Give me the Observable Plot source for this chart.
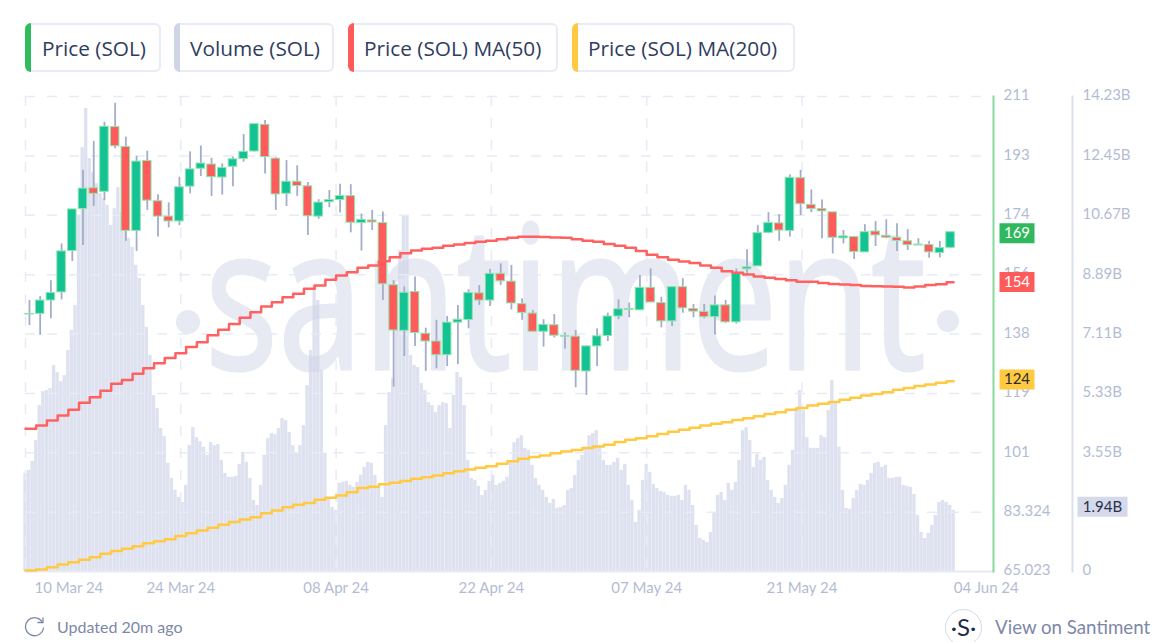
<!DOCTYPE html>
<html><head><meta charset="utf-8">
<script src="https://cdn.jsdelivr.net/npm/d3@7"></script>
<script src="https://cdn.jsdelivr.net/npm/@observablehq/plot@0.6"></script>
<style>
html,body{margin:0;padding:0;background:#fff}
#page{position:relative;width:1157px;height:642px;overflow:hidden;font-family:Lato,"Open Sans",sans-serif}
.pill{position:absolute;top:23px;height:45px;border:2px solid #e9ebf5;border-left:none;border-radius:6px;box-sizing:content-box;color:#2f3d5e;font:20.8px/46px "Open Sans",sans-serif;background:#fff;white-space:nowrap}
.pill i{position:absolute;left:0;top:-2px;bottom:-2px;width:6px;border-radius:6px 0 0 6px}
#mark{position:absolute;left:205px;top:192px;font:200px/200px "Open Sans",sans-serif;color:#e7e9f3;-webkit-text-stroke:3px #e7e9f3;white-space:nowrap;transform:scaleX(.765);transform-origin:0 0}
.wd{position:absolute;border-radius:50%;background:#e7e9f3}
.chart{position:absolute;left:0;top:80px}
#upd{position:absolute;left:57px;top:618px;font-size:16px;line-height:18px;color:#7d88a8}
#view{position:absolute;left:995px;top:616px;font-size:18.7px;line-height:22px;color:#7d88a8;white-space:nowrap}
#logo{position:absolute;left:945px;top:609px;width:35px;height:35px;border:1.5px solid #d5d9e9;border-radius:50%;text-align:center;line-height:34px;font-size:24px;color:#1d2a4a;background:#fff}
</style></head>
<body><div id="page">
<div id="mark">santiment</div>
<div class="wd" style="left:176px;top:310px;width:24px;height:24px"></div>
<div class="wd" style="left:937px;top:310px;width:22px;height:22px"></div>
<div id="volLayer" class="chart"></div>
<div id="priceLayer" class="chart"></div>
<div class="pill" style="left:25px;width:117px;padding-left:17px"><i style="background:#2fbc5f"></i>Price (SOL)</div>
<div class="pill" style="left:174px;width:142px;padding-left:16px"><i style="background:#d0d4e7"></i>Volume (SOL)</div>
<div class="pill" style="left:348px;width:192px;padding-left:16px"><i style="background:#ff5b5b"></i>Price (SOL) MA(50)</div>
<div class="pill" style="left:572px;width:205px;padding-left:16px"><i style="background:#ffc942"></i>Price (SOL) MA(200)</div>
<svg style="position:absolute;left:24px;top:617px" width="21" height="21" viewBox="0 0 21 21" fill="none" stroke="#7d88a8" stroke-width="1.3"><path d="M18.5 5.5A9 9 0 1 0 19.5 10.5"/><path d="M13.5 5.5h5.5V0.5"/></svg>
<div id="upd">Updated 20m ago</div>
<div id="logo">·S·</div>
<div id="view">View on Santiment</div>
</div>
<script>
const startDate = "2024-03-10T00:00:00Z";
const tickDates = ["2024-03-10T00:00:00Z","2024-03-24T12:00:00Z","2024-04-08T00:00:00Z","2024-04-22T12:00:00Z","2024-05-07T00:00:00Z","2024-05-21T12:00:00Z","2024-06-05T00:00:00Z"];
const tickLabels = ["10 Mar 24","24 Mar 24","08 Apr 24","22 Apr 24","07 May 24","21 May 24","04 Jun 24"];
const priceTicks = [211,192.75,174.5,156.25,138,119.76,101.5,83.27,65.023];
const priceTickLabels = ["211","193","174","156","138","119","101","83.324","65.023"];
const volumeTicks = [14.23,12.45,10.67,8.89,7.11,5.33,3.55,1.78,0];
const volumeTickLabels = ["14.23B","12.45B","10.67B","8.89B","7.11B","5.33B","3.55B","1.78B","0"];

const open = [144.0,144.2,148.3,150.8,163.5,176.4,182.8,181.7,201.6,195.5,169.7,191.2,178.8,174.1,172.6,183.3,188.8,190.1,186.1,189.4,191.8,194.1,202.3,191.9,181.1,184.8,183.4,174.1,178.5,179.2,180.4,172.1,172.9,172.1,153.0,139.0,150.9,138.1,135.7,131.5,141.5,142.3,150.5,148.3,156.5,154.1,147.2,144.3,138.7,140.7,137.4,137.2,126.5,134.2,137.4,143.4,145.7,145.3,152.2,147.5,141.9,152.4,145.7,144.8,143.2,146.8,141.6,157.9,158.8,169.1,172.0,169.7,185.9,177.7,176.4,175.4,167.4,167.8,163.1,169.5,168.2,167.6,166.5,165.2,165.4,162.9,164.5];
const close = [144.2,148.3,150.6,163.4,176.3,182.7,181.1,201.7,195.7,169.7,191.0,179.0,174.1,172.6,183.1,188.6,190.4,186.2,189.0,191.7,194.0,202.5,192.4,180.9,184.8,183.5,174.2,178.4,179.2,180.4,172.2,173.1,172.3,153.3,139.1,150.7,138.3,135.7,131.5,141.5,142.4,150.6,148.3,156.5,154.2,147.4,144.5,138.7,140.8,137.5,137.2,126.7,134.2,137.3,143.4,145.6,145.4,152.2,147.7,141.9,152.4,145.9,144.9,143.2,146.8,141.6,156.8,158.5,169.0,172.1,169.8,186.0,177.9,176.4,175.7,167.6,168.0,163.2,169.3,168.3,167.6,166.6,165.3,165.5,163.1,164.4,169.3];
const high = [148.3,149.5,154.4,165.7,176.3,188.3,197.2,203.1,208.9,198.5,192.6,194.2,180.8,178.3,186.2,194.0,195.8,192.0,190.3,192.4,199.3,202.5,203.6,192.2,191.3,189.7,184.6,179.3,182.1,184.0,183.9,174.9,176.0,175.5,154.4,152.5,155.5,139.8,142.2,143.4,146.8,151.6,152.9,157.8,159.6,159.1,148.8,145.2,142.4,144.0,138.3,139.1,134.5,139.6,144.4,148.5,147.5,156.0,158.0,149.3,152.4,155.0,147.1,147.1,149.7,148.3,158.0,163.9,171.3,175.3,174.7,186.9,188.3,182.3,179.2,175.4,169.8,168.0,171.6,172.6,173.1,171.9,170.1,167.3,166.5,166.5,169.3];
const low = [140.6,137.6,142.7,148.5,160.3,165.2,177.2,179.0,194.9,166.5,163.4,176.0,167.8,170.6,171.3,181.1,186.4,180.3,180.7,183.3,190.8,193.9,187.2,176.0,177.2,180.3,168.3,173.3,176.8,175.2,169.1,163.5,169.8,148.3,121.7,131.1,134.2,126.5,127.3,128.0,128.6,139.6,146.8,146.5,152.9,145.4,142.2,138.6,134.0,136.8,133.4,121.5,119.1,128.0,135.7,142.4,143.0,145.2,147.7,139.9,140.3,144.4,143.0,142.7,137.7,141.3,141.1,156.3,158.8,168.8,166.5,167.8,174.4,175.3,167.3,162.6,165.7,160.9,163.1,164.9,167.3,163.4,163.7,165.2,161.3,161.4,164.2];

const ma50 = [108.9,109.9,111.4,113.0,114.7,116.9,118.6,120.6,122.7,123.9,125.8,127.5,129.0,130.6,132.1,134.0,135.5,137.6,139.3,141.1,143.0,144.7,146.5,147.8,149.3,150.4,151.9,152.9,154.7,156.0,157.0,158.4,159.1,160.4,161.6,162.8,163.7,164.2,164.5,165.1,165.5,166.0,166.4,166.7,167.1,167.6,167.9,167.9,167.8,167.7,167.6,167.1,166.7,166.4,165.7,165.1,164.5,163.5,162.4,161.6,160.8,160.3,159.8,159.1,158.4,157.3,156.8,156.3,155.7,155.3,154.9,154.5,154.1,154.1,153.7,153.4,153.2,153.1,152.8,152.7,152.6,152.5,152.3,152.6,153.1,153.3,153.9];
const ma200 = [65.3,65.6,66.3,67.2,67.9,68.6,69.4,70.5,71.3,72.0,72.8,73.7,74.3,74.9,75.9,76.8,77.6,78.5,79.4,80.2,81.0,81.7,82.9,83.8,84.8,85.5,86.1,87.1,87.7,88.4,89.4,90.7,91.1,91.8,92.3,92.8,93.5,94.0,94.5,95.2,95.8,96.4,96.9,97.4,98.1,98.9,99.7,100.2,100.7,101.4,101.9,102.4,103.0,103.4,104.0,104.8,105.5,106.0,106.6,107.3,108.0,108.6,109.2,109.9,110.4,110.9,111.6,112.1,112.7,113.4,114.0,114.7,115.3,116.0,116.6,117.1,117.8,118.4,119.1,119.6,120.1,120.9,121.4,122.0,122.5,123.0,123.5];

const volumeB = [2.94,3.03,3.30,3.92,4.97,5.39,5.42,5.48,6.17,5.96,5.69,5.87,6.62,7.22,7.97,10.67,12.70,13.87,12.37,11.95,11.62,11.32,11.17,10.97,10.37,10.87,11.50,10.76,10.37,9.98,9.71,9.17,8.78,7.97,7.31,6.47,5.27,4.88,4.28,4.04,3.24,2.79,2.43,2.22,2.07,2.58,3.77,4.31,4.01,3.89,3.72,3.48,3.86,3.77,3.80,3.33,2.94,2.82,2.82,2.85,3.21,3.57,3.27,2.79,2.13,1.98,2.58,3.48,3.98,4.13,4.10,4.28,4.58,4.52,4.16,3.77,3.54,3.77,4.37,5.57,6.62,8.57,8.12,6.02,3.54,2.19,1.92,1.83,2.64,2.67,2.70,2.58,2.52,2.67,2.88,3.12,3.27,3.24,2.88,2.49,2.22,4.37,5.36,5.78,8.12,9.62,10.67,10.67,6.47,6.17,6.11,5.63,5.42,5.06,4.97,4.76,4.97,5.06,5.03,4.28,5.27,5.96,5.81,4.97,3.33,2.79,2.73,2.55,2.28,2.43,2.70,2.88,2.58,2.64,2.70,2.82,3.33,3.86,3.98,4.07,3.69,3.63,3.18,2.79,2.58,2.43,2.22,2.04,2.16,1.89,1.92,1.98,2.43,2.49,2.88,3.33,3.48,3.72,4.07,4.13,4.22,3.77,3.33,3.18,3.18,3.27,3.39,3.03,3.21,2.58,2.13,1.47,1.83,2.73,3.21,2.97,2.61,2.49,2.40,2.37,2.28,2.25,2.25,2.28,2.13,2.58,2.43,1.98,1.38,0.99,0.93,0.87,1.17,1.77,2.28,2.37,2.13,2.64,2.43,2.67,3.33,4.22,4.31,3.92,3.12,3.51,3.33,3.42,2.73,2.43,2.22,2.04,2.19,2.58,3.18,3.63,4.88,5.42,4.82,4.01,3.69,3.69,3.69,4.07,4.01,4.82,5.72,5.03,3.72,2.43,1.89,1.86,2.19,2.43,2.61,2.58,2.73,2.94,3.24,3.27,3.12,3.18,2.79,2.79,2.82,2.82,2.58,2.55,2.52,2.31,1.68,1.17,0.99,1.14,1.38,1.68,2.07,2.13,2.07,1.98,1.83];

const lastPrice = 169, lastMa50 = 154, lastMa200 = 124, lastVolume = 1.94;

const DAY = 864e5;
const t0 = +new Date(startDate);
const at = days => new Date(t0 + days * DAY);
const ticks = tickDates.map(d => new Date(d));
const labelOf = d => tickLabels[ticks.findIndex(t => +t === +d)];
const CANDLE_OFFSET = 0.37;
const candles = open.map((o,i) => ({
  i, o, c: close[i], h: high[i], l: low[i], up: close[i] >= o,
  t: at(i + CANDLE_OFFSET), t1: at(i + CANDLE_OFFSET - 0.4), t2: at(i + CANDLE_OFFSET + 0.4)
}));
const maRows = a => [...a.map((v,j) => ({t: at(j), v})), {t: at(a.length - 0.35), v: a[a.length-1]}];
const volumeRows = volumeB.map((v,k) => ({t1: at(k/3 - 0.155), t2: at(k/3 + 0.155), v}));

const W = 1157, H = 520, TOP = 16, BOTTOM = 29;
const FONT = 'Lato, "Open Sans", sans-serif';
const AXIS = "#b4bcd4";
const tagSymbol = (w,h) => ({draw(c){ c.rect(-w/2,-h/2,w,h); }});

const volPlot = Plot.plot({
  width: W, height: H, marginLeft: 25, marginRight: 85, marginTop: TOP, marginBottom: BOTTOM,
  style: {background: "transparent", fontFamily: FONT},
  x: {type: "utc", domain: [at(0), at(97.76)], axis: null},
  y: {domain: [0, 14.23], axis: null},
  marks: [
    Plot.rectY(volumeRows, {x1: "t1", x2: "t2", y: "v", fill: "#cfd3e7", fillOpacity: 0.68}),
    Plot.frame({anchor: "right", stroke: "#dcdfed", strokeWidth: 2}),
    Plot.axisY({anchor: "right", ticks: volumeTicks, tickSize: 0, tickPadding: 10, fontSize: 15, fill: AXIS, label: null, dy: -1,
      tickFormat: d => volumeTickLabels[volumeTicks.indexOf(d)]}),
    Plot.dot([lastVolume], {y: d => d, frameAnchor: "right", dx: 30, symbol: tagSymbol(50,20), fill: "#d5d9e9", stroke: "none"}),
    Plot.text([lastVolume], {y: d => d, text: d => d.toFixed(2) + "B", frameAnchor: "right", dx: 30, textAnchor: "middle", fontSize: 15, fill: "#28314d"})
  ]
});
document.getElementById("volLayer").append(volPlot);

const GRID = {stroke: "#e8ebf5", strokeWidth: 1.5, strokeDasharray: "10 12"};
const pricePlot = Plot.plot({
  width: W, height: H, marginLeft: 25, marginRight: 164, marginTop: TOP, marginBottom: BOTTOM,
  style: {background: "transparent", fontFamily: FONT},
  x: {type: "utc", domain: [at(0), at(90.38)], axis: null},
  y: {domain: [65.023, 211], axis: null},
  marks: [
    Plot.ruleY(priceTicks.slice(0,-1), {...GRID}),
    Plot.ruleX(ticks.slice(0,-1), {...GRID}),
    Plot.frame({anchor: "bottom", stroke: "#e8eaf4", strokeWidth: 2}),
    Plot.line(maRows(ma200), {x: "t", y: "v", curve: "step-after", stroke: "#ffc942", strokeWidth: 2.5}),
    Plot.ruleX(candles, {x: "t", y1: "l", y2: "h", stroke: "#a3adc9", strokeWidth: 1.8}),
    Plot.rect(candles, {x1: "t1", x2: "t2", y1: "o", y2: "c", fill: d => d.up ? "#14c393" : "#ff5b5b", stroke: "#93e4ae", strokeWidth: 1}),
    Plot.line(maRows(ma50), {x: "t", y: "v", curve: "step-after", stroke: "#ff6161", strokeWidth: 2.5}),
    Plot.frame({anchor: "right", stroke: "#86da9c", strokeWidth: 2}),
    Plot.axisY({anchor: "right", ticks: priceTicks, tickSize: 0, tickPadding: 10, fontSize: 15, fill: AXIS, label: null, dy: -1,
      tickFormat: d => priceTickLabels[priceTicks.indexOf(d)]}),
    Plot.axisX({ticks: ticks.slice(0,1), tickSize: 0, tickPadding: 11, fontSize: 15, fill: AXIS, label: null, textAnchor: "start", dx: 9, tickFormat: labelOf}),
    Plot.axisX({ticks: ticks.slice(1,-1), tickSize: 0, tickPadding: 11, fontSize: 15, fill: AXIS, label: null, tickFormat: labelOf}),
    Plot.axisX({ticks: ticks.slice(-1), tickSize: 0, tickPadding: 11, fontSize: 15, fill: AXIS, label: null, dx: 29, tickFormat: labelOf}),
    ...[[lastPrice,"#2fb85c","#fff"],[lastMa50,"#ff5b5b","#fff"],[lastMa200,"#ffc942","#2b2b2b"]].flatMap(([v,bg,fg]) => [
      Plot.dot([v], {y: d => d, frameAnchor: "right", dx: 23.5, symbol: tagSymbol(35,20), fill: bg, stroke: "none"}),
      Plot.text([v], {y: d => d, text: d => String(d), frameAnchor: "right", dx: 23.5, textAnchor: "middle", fontSize: 15, fill: fg})
    ])
  ]
});
document.getElementById("priceLayer").append(pricePlot);
</script>
</body></html>
